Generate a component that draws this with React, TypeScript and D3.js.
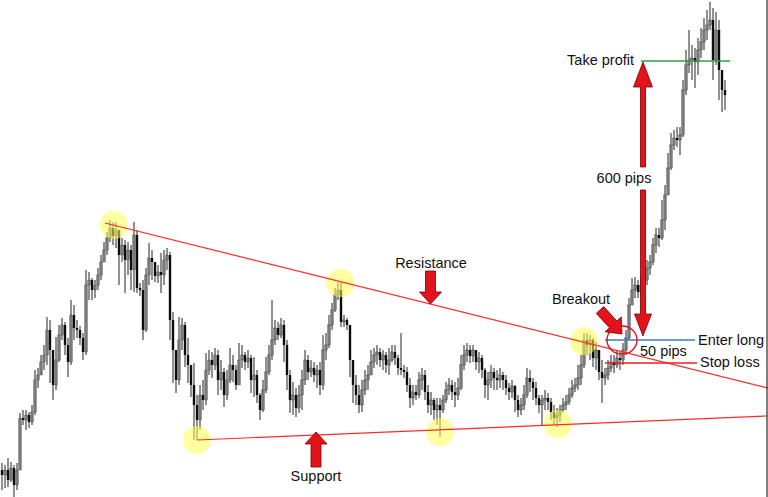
import React from "react";
import * as d3 from "d3";

// Price series (pips), one value per bar; each bar opens at the previous close
const firstOpen = 30;
const closes = [25,30,20,32,15,30,82,80,85,78,
88,120,125,138,145,170,150,115,140,165,
175,155,138,185,172,170,162,148,215,220,
210,215,225,238,250,262,272,264,270,245,
255,240,250,230,265,212,210,170,225,242,
238,224,228,225,240,245,180,150,120,160,
175,145,135,115,95,80,105,100,130,140,
135,145,120,128,105,120,135,130,115,140,
145,138,142,120,125,105,90,110,128,145,
160,172,165,175,155,125,100,105,92,105,
120,140,128,132,125,130,115,150,155,175,
190,205,210,178,180,175,140,115,105,95,
110,120,125,138,145,148,140,145,135,140,
148,142,132,130,128,115,102,108,105,120,
125,108,95,100,90,95,90,100,110,115,
108,105,112,135,145,150,144,150,138,142,
130,115,120,128,122,120,125,120,112,108,
114,100,90,95,105,122,118,112,102,95,
100,102,98,88,82,85,90,95,98,105,
112,115,122,135,160,155,160,142,150,128,
122,125,132,138,135,142,140,150,162,195,
210,215,208,215,220,232,238,255,265,262,
280,305,332,355,362,360,365,410,435,440,
442,438,450,458,470,475,480,440,470,430,
410,405];
const highs = [37,35,42,38,35,37,87,90,90,88,
95,130,132,145,155,183,180,145,163,175,
182,178,162,200,195,180,174,167,230,228,
222,220,232,245,258,268,280,278,278,260,
262,260,258,255,278,270,217,220,232,257,
250,232,235,247,250,252,248,188,135,183,
182,178,162,132,137,105,115,120,147,150,
148,152,150,140,132,130,152,145,135,157,
155,148,150,145,143,130,107,120,143,155,
200,180,178,182,180,160,130,118,112,115,
130,150,145,140,138,135,138,165,167,185,
197,212,218,218,185,182,175,140,125,115,
120,130,135,150,152,155,152,150,148,152,
155,155,145,167,135,133,122,115,115,128,
132,130,115,108,102,102,102,105,118,122,
120,118,122,145,155,157,155,155,150,148,
145,132,128,135,132,130,132,128,125,117,
120,115,105,102,115,132,130,122,118,105,
105,110,107,102,95,92,95,102,105,112,
120,122,135,145,167,167,165,162,158,145,
140,132,140,145,145,150,148,157,170,202,
222,223,220,225,228,240,245,262,272,272,
300,315,347,367,370,373,373,420,450,470,
455,452,462,472,482,490,498,492,488,480,
422,420];
const lows = [10,12,13,18,3,10,32,75,70,72,
75,85,112,128,130,135,117,100,110,138,
160,145,123,135,160,162,155,140,145,200,
200,202,210,220,238,245,258,255,252,215,
238,207,225,210,208,207,204,160,168,215,
220,218,217,207,215,230,160,117,107,115,
150,133,117,103,60,60,70,90,95,125,
122,130,105,110,93,100,117,118,110,128,
132,130,132,107,103,97,80,88,107,125,
140,155,160,162,138,110,87,85,83,87,
90,115,120,123,118,112,105,110,140,152,
170,188,200,173,173,170,123,97,95,87,
88,105,110,125,132,135,133,130,127,125,
138,135,125,125,122,108,92,95,100,102,
110,100,87,85,80,75,63,87,97,105,
100,93,100,110,130,138,137,138,130,127,
122,102,100,112,110,110,112,110,105,100,
102,88,83,85,90,102,108,100,95,87,
75,90,90,80,75,73,78,88,90,95,
102,108,110,115,132,145,140,133,130,120,
97,115,120,128,127,132,130,135,145,160,
195,202,202,200,205,215,225,235,247,253,
260,270,305,330,350,353,345,363,405,427,
420,412,425,442,450,460,470,420,435,400,
388,390];

// Annotation anchors in (bar index, price)
const resistanceLine = [[34.3, 277], [255.3, 112]];
const supportLine = [[65, 60], [255, 84]];
const touchPoints = [[37.3, 275], [112.7, 217], [65, 60], [146, 68], [185.3, 76], [194, 159]];
const enterLong = { price: 160, from: 201, to: 231 };
const stopLoss = { price: 137, from: 201, to: 231.7 };
const takeProfit = { price: 439, from: 213, to: 242.7 };

const W = 768, H = 497;

function blockArrow(x1: number, y1: number, x2: number, y2: number, shaftW: number, headW: number, headL: number) {
  const dx = x2 - x1, dy = y2 - y1;
  const len = Math.hypot(dx, dy);
  const ux = dx / len, uy = dy / len;
  const px = -uy, py = ux;
  const bx = x2 - ux * headL, by = y2 - uy * headL;
  const pts = [
    [x1 + px * shaftW / 2, y1 + py * shaftW / 2],
    [bx + px * shaftW / 2, by + py * shaftW / 2],
    [bx + px * headW / 2, by + py * headW / 2],
    [x2, y2],
    [bx - px * headW / 2, by - py * headW / 2],
    [bx - px * shaftW / 2, by - py * shaftW / 2],
    [x1 - px * shaftW / 2, y1 - py * shaftW / 2],
  ];
  return "M" + pts.map(p => p[0].toFixed(1) + "," + p[1].toFixed(1)).join("L") + "Z";
}

export default function App() {
  const x = d3.scaleLinear().domain([0, closes.length - 1]).range([2, 725]);
  const y = d3.scaleLinear().domain([0, 500]).range([500, 0]);
  const font = "'Liberation Sans', Arial, sans-serif";
  const arrowFill = "#e3131b";
  const arrowStroke = "#7a0000";

  const bars = closes.map((c, i) => {
    const o = i === 0 ? firstOpen : closes[i - 1];
    const hi = Math.max(highs[i], o, c);
    const lo = Math.min(lows[i], o, c);
    return { i, o, c, hi, lo, up: c >= o };
  });

  const line = d3.line<number[]>().x(d => x(d[0])).y(d => y(d[1]));

  return (
    <svg width={W} height={H} style={{ position: "absolute", left: 0, top: 0, background: "#fff" }}>
      <rect x={0} y={0} width={W} height={H} fill="#fff" />
      <g>
        {bars.map(b => (
          <g key={b.i}>
            <line x1={x(b.i)} x2={x(b.i)} y1={y(b.hi)} y2={y(b.lo)} stroke="#222" strokeWidth={1} />
            <rect x={x(b.i) - 1.2} width={2.4} y={Math.min(y(b.o), y(b.c))}
              height={Math.max(1, Math.abs(y(b.o) - y(b.c)))} fill={b.up ? "#7a7a7a" : "#0d0d0d"}
              stroke={b.up ? "#333" : "none"} strokeWidth={0.4} />
          </g>
        ))}
      </g>
      {touchPoints.map((p, k) => (
        <circle key={k} cx={x(p[0])} cy={y(p[1])} r={14} fill="#ffff55" fillOpacity={0.55} />
      ))}
      <path d={line(resistanceLine as number[][]) || ""} stroke="#ff2a2a" strokeWidth={1.2} fill="none" />
      <path d={line(supportLine as number[][]) || ""} stroke="#ff2a2a" strokeWidth={1.2} fill="none" />

      <line x1={x(enterLong.from)} x2={x(enterLong.to)} y1={y(enterLong.price)} y2={y(enterLong.price)} stroke="#2f7fc8" strokeWidth={1.6} />
      <line x1={x(stopLoss.from)} x2={x(stopLoss.to)} y1={y(stopLoss.price)} y2={y(stopLoss.price)} stroke="#ee1c1c" strokeWidth={1.4} />
      <line x1={x(takeProfit.from)} x2={x(takeProfit.to)} y1={y(takeProfit.price)} y2={y(takeProfit.price)} stroke="#2ea043" strokeWidth={1.4} />

      <ellipse cx={622} cy={340} rx={15} ry={14} fill="none" stroke="#e3131b" strokeWidth={1.4} />

      <path d={blockArrow(430.5, 271, 430.5, 304, 10, 22, 12)} fill={arrowFill} stroke={arrowStroke} strokeWidth={0.8} />
      <path d={blockArrow(316, 467, 316, 432, 10, 22, 12)} fill={arrowFill} stroke={arrowStroke} strokeWidth={0.8} />
      <path d={blockArrow(600, 310, 622, 334, 10, 22, 13)} fill={arrowFill} stroke={arrowStroke} strokeWidth={0.8} />
      <path d={blockArrow(643, 167, 643, 62, 5, 19, 25)} fill={arrowFill} stroke={arrowStroke} strokeWidth={0.8} />
      <path d={blockArrow(643, 190, 643, 336, 5, 17, 22)} fill={arrowFill} stroke={arrowStroke} strokeWidth={0.8} />

      <g fontFamily={font} fontSize={14.5} fill="#111">
        <text x={634} y={65} textAnchor="end">Take profit</text>
        <text x={624} y={183} textAnchor="middle">600 pips</text>
        <text x={431} y={268} textAnchor="middle">Resistance</text>
        <text x={552} y={304}>Breakout</text>
        <text x={698} y={345}>Enter long</text>
        <text x={640} y={356}>50 pips</text>
        <text x={700} y={367}>Stop loss</text>
        <text x={316} y={481} textAnchor="middle">Support</text>
      </g>
      <line x1={767} x2={767} y1={0} y2={H} stroke="#000" strokeWidth={1} />
    </svg>
  );
}
